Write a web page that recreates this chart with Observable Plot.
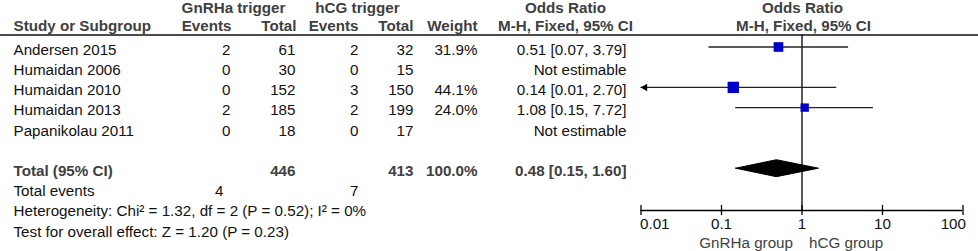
<!DOCTYPE html>
<html><head><meta charset="utf-8">
<script src="https://cdn.jsdelivr.net/npm/d3@7"></script>
<script src="https://cdn.jsdelivr.net/npm/@observablehq/plot@0.6"></script>
<style>
html,body{margin:0;padding:0;background:#fff}
#chart svg{display:block}
</style>
</head><body><div id="chart"></div>
<script>
// ---- data ----
const studies = ["Andersen 2015", "Humaidan 2006", "Humaidan 2010", "Humaidan 2013", "Papanikolau 2011"];
const gnrhEvents = [2, 0, 0, 2, 0];
const gnrhTotal = [61, 30, 152, 185, 18];
const hcgEvents = [2, 0, 3, 2, 0];
const hcgTotal = [32, 15, 150, 199, 17];
const weights = [31.9, null, 44.1, 24.0, null];
const oddsRatio = [0.51, null, 0.14, 1.08, null];
const ciLow = [0.07, null, 0.01, 0.15, null];
const ciHigh = [3.79, null, 2.70, 7.72, null];

const totalGnrh = 446, totalHcg = 413, totalWeight = 100.0;
const pooled = {or: 0.48, lo: 0.15, hi: 1.60};
const totalEventsGnrh = 4, totalEventsHcg = 7;
const heterogeneityText = "Heterogeneity: Chi\u00B2 = 1.32, df = 2 (P = 0.52); I\u00B2 = 0%";
const overallText = "Test for overall effect: Z = 1.20 (P = 0.23)";
const axisTicks = [0.01, 0.1, 1, 10, 100];
const groupLabels = ["GnRHa group", "hCG group"];

// ---- layout rows (row index units) ----
const ROW_TOTAL = 6, ROW_EVENTS = 7, ROW_HET = 8, ROW_TEST = 9;
const ROW_HEAD1 = -2.06, ROW_HEAD2 = -1.19, ROW_RULE = -0.74;
const ROW_AXIS = 7.9455, ROW_TICKLBL = 8.64, ROW_GROUP = 9.57;
const GDY = -3; // graphics offset from text rows

const fmt2 = d3.format(".2f");
const rows = studies.map((s, i) => ({
  study: s, row: i,
  ev1: gnrhEvents[i], tot1: gnrhTotal[i], ev2: hcgEvents[i], tot2: hcgTotal[i],
  w: weights[i], or: oddsRatio[i], lo: ciLow[i], hi: ciHigh[i]
}));
const est = rows.filter(d => d.or != null);
const orText = d => d.or == null ? "Not estimable" : `${fmt2(d.or)} [${fmt2(d.lo)}, ${fmt2(d.hi)}]`;

const FONT = "Liberation Sans, Arial, Helvetica, sans-serif";
const HEAD = "#404040";
const BODY = "#111";
const FS = 15.2;

const col = (data, opts) => Plot.text(data, {frameAnchor: "left", fontSize: FS, ...opts});

const headers1 = [
  {t: "GnRHa trigger", x: 233}, {t: "hCG trigger", x: 357},
  {t: "Odds Ratio", x: 565}, {t: "Odds Ratio", x: 802}
];
const headers2 = [
  {t: "Study or Subgroup", x: 13, a: "start"},
  {t: "Events", x: 231, a: "end"}, {t: "Total", x: 296, a: "end"},
  {t: "Events", x: 358, a: "end"}, {t: "Total", x: 413, a: "end"},
  {t: "Weight", x: 477, a: "end"},
  {t: "M-H, Fixed, 95% CI", x: 565, a: "middle"},
  {t: "M-H, Fixed, 95% CI", x: 803, a: "middle"}
];

const diamond = [
  {x: pooled.lo, y: ROW_TOTAL}, {x: pooled.or, y: ROW_TOTAL - 0.42},
  {x: pooled.hi, y: ROW_TOTAL}, {x: pooled.or, y: ROW_TOTAL + 0.42},
  {x: pooled.lo, y: ROW_TOTAL}
];

const lastTick = axisTicks.length - 1;

const marks = [
  // header rule
  Plot.ruleY([ROW_RULE], {stroke: "#111", strokeWidth: 1.4}),
  // headers
  ...headers1.map(h => col([h], {y: () => ROW_HEAD1, text: d => d.t, dx: h.x, textAnchor: "middle", fontWeight: "bold", fill: HEAD})),
  ...headers2.map(h => col([h], {y: () => ROW_HEAD2, text: d => d.t, dx: h.x, textAnchor: h.a, fontWeight: "bold", fill: HEAD})),
  // study rows
  col(rows, {y: "row", text: "study", dx: 13, textAnchor: "start", fill: BODY}),
  col(rows, {y: "row", text: d => String(d.ev1), dx: 230, textAnchor: "end", fill: BODY}),
  col(rows, {y: "row", text: d => String(d.tot1), dx: 295, textAnchor: "end", fill: BODY}),
  col(rows, {y: "row", text: d => String(d.ev2), dx: 358, textAnchor: "end", fill: BODY}),
  col(rows, {y: "row", text: d => String(d.tot2), dx: 413, textAnchor: "end", fill: BODY}),
  col(rows, {y: "row", text: d => d.w == null ? "" : d3.format(".1f")(d.w) + "%", dx: 477, textAnchor: "end", fill: BODY}),
  col(rows, {y: "row", text: orText, dx: 626, textAnchor: "end", fill: BODY}),
  // total row
  col([0], {y: () => ROW_TOTAL, text: () => "Total (95% CI)", dx: 13, textAnchor: "start", fontWeight: "bold", fill: HEAD}),
  col([0], {y: () => ROW_TOTAL, text: () => String(totalGnrh), dx: 295, textAnchor: "end", fontWeight: "bold", fill: HEAD}),
  col([0], {y: () => ROW_TOTAL, text: () => String(totalHcg), dx: 413, textAnchor: "end", fontWeight: "bold", fill: HEAD}),
  col([0], {y: () => ROW_TOTAL, text: () => d3.format(".1f")(totalWeight) + "%", dx: 477, textAnchor: "end", fontWeight: "bold", fill: HEAD}),
  col([0], {y: () => ROW_TOTAL, text: () => orText(pooled), dx: 626, textAnchor: "end", fontWeight: "bold", fill: HEAD}),
  // total events
  col([0], {y: () => ROW_EVENTS, text: () => "Total events", dx: 13, textAnchor: "start", fill: BODY}),
  col([0], {y: () => ROW_EVENTS, text: () => String(totalEventsGnrh), dx: 223, textAnchor: "end", fill: BODY}),
  col([0], {y: () => ROW_EVENTS, text: () => String(totalEventsHcg), dx: 358, textAnchor: "end", fill: BODY}),
  col([0], {y: () => ROW_HET, text: () => heterogeneityText, dx: 13, textAnchor: "start", fill: BODY}),
  col([0], {y: () => ROW_TEST, text: () => overallText, dx: 13, textAnchor: "start", fill: BODY}),
  // line of no effect
  Plot.ruleX([1], {y1: ROW_RULE, y2: ROW_AXIS, stroke: "#000", strokeWidth: 1.3}),
  // CI lines
  Plot.ruleY(est, {y: "row", x1: d => Math.max(d.lo, 0.01), x2: "hi", dy: GDY, stroke: "#222", strokeWidth: 1.3}),
  // arrow for clipped CI
  Plot.dot(est.filter(d => d.lo <= 0.01), {x: () => 0.01, y: "row", dy: GDY, dx: 4, symbol: "triangle", rotate: -90, r: 2.8, fill: "#000"}),
  // study squares
  Plot.dot(est, {x: "or", y: "row", r: "w", dy: GDY, symbol: "square", fill: "#0000CC"}),
  // pooled diamond
  Plot.line(diamond, {x: "x", y: "y", dy: GDY, fill: "#000", stroke: "#000", strokeWidth: 1}),
  // axis
  Plot.ruleY([ROW_AXIS], {x1: axisTicks[0], x2: axisTicks[lastTick], stroke: "#000", strokeWidth: 1.3}),
  Plot.ruleX(axisTicks, {x: d => d, y1: ROW_AXIS - 0.25, y2: ROW_AXIS + 0.25, stroke: "#000", strokeWidth: 1.3}),
  Plot.text(axisTicks.slice(1, lastTick), {x: d => d, y: () => ROW_TICKLBL, text: d => String(d), fontSize: FS, fill: BODY, textAnchor: "middle"}),
  Plot.text([axisTicks[0]], {x: d => d, y: () => ROW_TICKLBL, text: d => String(d), fontSize: FS, fill: BODY, textAnchor: "start", dx: -1}),
  Plot.text([axisTicks[lastTick]], {x: d => d, y: () => ROW_TICKLBL, text: d => String(d), fontSize: FS, fill: BODY, textAnchor: "end", dx: 3}),
  Plot.text([groupLabels[0]], {x: () => 1, y: () => ROW_GROUP, text: d => d, dx: -9, textAnchor: "end", fontSize: FS, fill: HEAD}),
  Plot.text([groupLabels[1]], {x: () => 1, y: () => ROW_GROUP, text: d => d, dx: 7, textAnchor: "start", fontSize: FS, fill: HEAD})
];

const chart = Plot.plot({
  width: 978, height: 251,
  marginLeft: 0, marginRight: 0, marginTop: 0, marginBottom: 0,
  style: {fontFamily: FONT, background: "#fff", overflow: "visible"},
  x: {type: "log", domain: [0.01, 100], range: [640.5, 962.5], axis: null},
  y: {type: "linear", domain: [0, 9], range: [49.5, 231.3], axis: null},
  r: {type: "sqrt", domain: [0, 44.1], range: [0, 6.4]},
  marks
});
document.getElementById("chart").appendChild(chart);
</script>
</body></html>
